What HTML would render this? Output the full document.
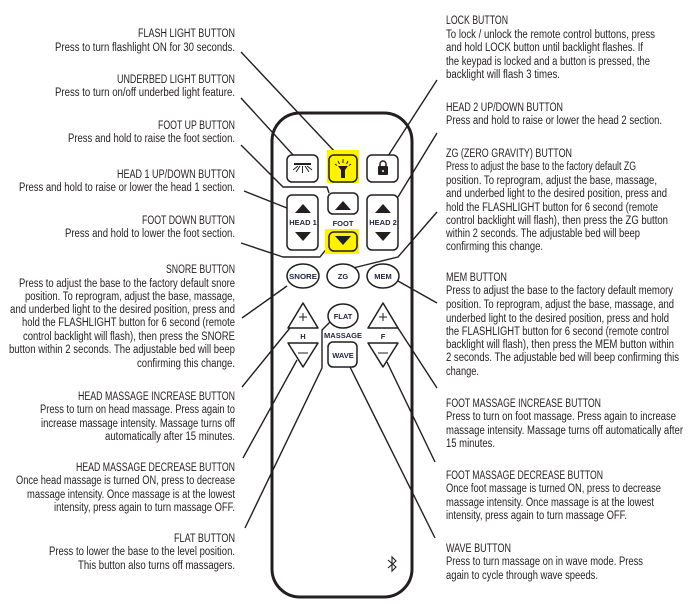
<!DOCTYPE html>
<html><head><meta charset="utf-8"><style>
html,body{margin:0;padding:0;background:#fff;}
svg{display:block;}
.t{font-family:"Liberation Sans Narrow","Liberation Sans",sans-serif;font-size:11.5px;fill:#231f20;}
.b{font-family:"Liberation Sans",sans-serif;font-weight:bold;font-size:7.5px;fill:#1f2340;text-anchor:middle;}
</style></head><body>
<svg width="695" height="604" viewBox="0 0 695 604" xmlns="http://www.w3.org/2000/svg">
<g class="t" lengthAdjust="spacingAndGlyphs">
<text x="138" y="37" textLength="97" lengthAdjust="spacingAndGlyphs">FLASH LIGHT BUTTON</text>
<text x="55" y="51" textLength="180" lengthAdjust="spacingAndGlyphs">Press to turn flashlight ON for 30 seconds.</text>
<text x="117" y="83" textLength="118" lengthAdjust="spacingAndGlyphs">UNDERBED LIGHT BUTTON</text>
<text x="55" y="96" textLength="180" lengthAdjust="spacingAndGlyphs">Press to turn on/off underbed light feature.</text>
<text x="158" y="129" textLength="77" lengthAdjust="spacingAndGlyphs">FOOT UP BUTTON</text>
<text x="68" y="142" textLength="167" lengthAdjust="spacingAndGlyphs">Press and hold to raise the foot section.</text>
<text x="117" y="178" textLength="118" lengthAdjust="spacingAndGlyphs">HEAD 1 UP/DOWN BUTTON</text>
<text x="19" y="191" textLength="216" lengthAdjust="spacingAndGlyphs">Press and hold to raise or lower the head 1 section.</text>
<text x="142" y="224" textLength="93" lengthAdjust="spacingAndGlyphs">FOOT DOWN BUTTON</text>
<text x="65" y="237" textLength="170" lengthAdjust="spacingAndGlyphs">Press and hold to lower the foot section.</text>
<text x="166" y="273" textLength="69" lengthAdjust="spacingAndGlyphs">SNORE BUTTON</text>
<text x="19" y="287" textLength="216" lengthAdjust="spacingAndGlyphs">Press to adjust the base to the factory default snore</text>
<text x="25" y="300" textLength="210" lengthAdjust="spacingAndGlyphs">position. To reprogram, adjust the base, massage,</text>
<text x="10" y="313" textLength="225" lengthAdjust="spacingAndGlyphs">and underbed light to the desired position, press and</text>
<text x="22" y="326" textLength="213" lengthAdjust="spacingAndGlyphs">hold the FLASHLIGHT button for 6 second (remote</text>
<text x="23" y="340" textLength="212" lengthAdjust="spacingAndGlyphs">control backlight will flash), then press the SNORE</text>
<text x="9" y="353" textLength="226" lengthAdjust="spacingAndGlyphs">button within 2 seconds. The adjustable bed will beep</text>
<text x="137" y="367" textLength="98" lengthAdjust="spacingAndGlyphs">confirming this change.</text>
<text x="78" y="400" textLength="157" lengthAdjust="spacingAndGlyphs">HEAD MASSAGE INCREASE BUTTON</text>
<text x="40" y="413" textLength="195" lengthAdjust="spacingAndGlyphs">Press to turn on head massage. Press again to</text>
<text x="41" y="427" textLength="194" lengthAdjust="spacingAndGlyphs">increase massage intensity. Massage turns off</text>
<text x="105" y="440" textLength="130" lengthAdjust="spacingAndGlyphs">automatically after 15 minutes.</text>
<text x="76" y="471" textLength="159" lengthAdjust="spacingAndGlyphs">HEAD MASSAGE DECREASE BUTTON</text>
<text x="16" y="484" textLength="219" lengthAdjust="spacingAndGlyphs">Once head massage is turned ON, press to decrease</text>
<text x="27" y="498" textLength="208" lengthAdjust="spacingAndGlyphs">massage intensity. Once massage is at the lowest</text>
<text x="54" y="511" textLength="181" lengthAdjust="spacingAndGlyphs">intensity, press again to turn massage OFF.</text>
<text x="174" y="542" textLength="61" lengthAdjust="spacingAndGlyphs">FLAT BUTTON</text>
<text x="49" y="555" textLength="186" lengthAdjust="spacingAndGlyphs">Press to lower the base to the level position.</text>
<text x="78" y="569" textLength="157" lengthAdjust="spacingAndGlyphs">This button also turns off massagers.</text>

<text x="446" y="24" textLength="62" lengthAdjust="spacingAndGlyphs">LOCK BUTTON</text>
<text x="446" y="38" textLength="209" lengthAdjust="spacingAndGlyphs">To lock / unlock the remote control buttons, press</text>
<text x="446" y="51" textLength="197" lengthAdjust="spacingAndGlyphs">and hold LOCK button until backlight flashes. If</text>
<text x="446" y="65" textLength="204" lengthAdjust="spacingAndGlyphs">the keypad is locked and a button is pressed, the</text>
<text x="446" y="78" textLength="114" lengthAdjust="spacingAndGlyphs">backlight will flash 3 times.</text>
<text x="446" y="111" textLength="117" lengthAdjust="spacingAndGlyphs">HEAD 2 UP/DOWN BUTTON</text>
<text x="446" y="124" textLength="216" lengthAdjust="spacingAndGlyphs">Press and hold to raise or lower the head 2 section.</text>
<text x="446" y="157" textLength="126" lengthAdjust="spacingAndGlyphs">ZG (ZERO GRAVITY) BUTTON</text>
<text x="446" y="170" textLength="190" lengthAdjust="spacingAndGlyphs">Press to adjust the base to the factory default ZG</text>
<text x="446" y="184" textLength="211" lengthAdjust="spacingAndGlyphs">position. To reprogram, adjust the base, massage,</text>
<text x="446" y="197" textLength="221" lengthAdjust="spacingAndGlyphs">and underbed light to the desired position, press and</text>
<text x="446" y="211" textLength="212" lengthAdjust="spacingAndGlyphs">hold the FLASHLIGHT button for 6 second (remote</text>
<text x="446" y="224" textLength="222" lengthAdjust="spacingAndGlyphs">control backlight will flash), then press the ZG button</text>
<text x="446" y="237" textLength="194" lengthAdjust="spacingAndGlyphs">within 2 seconds. The adjustable bed will beep</text>
<text x="446" y="250" textLength="97" lengthAdjust="spacingAndGlyphs">confirming this change.</text>
<text x="446" y="281" textLength="61" lengthAdjust="spacingAndGlyphs">MEM BUTTON</text>
<text x="446" y="294" textLength="227" lengthAdjust="spacingAndGlyphs">Press to adjust the base to the factory default memory</text>
<text x="446" y="308" textLength="228" lengthAdjust="spacingAndGlyphs">position. To reprogram, adjust the base, massage, and</text>
<text x="446" y="322" textLength="223" lengthAdjust="spacingAndGlyphs">underbed light to the desired position, press and hold</text>
<text x="446" y="335" textLength="223" lengthAdjust="spacingAndGlyphs">the FLASHLIGHT button for 6 second (remote control</text>
<text x="446" y="348" textLength="228" lengthAdjust="spacingAndGlyphs">backlight will flash), then press the MEM button within</text>
<text x="446" y="361" textLength="233" lengthAdjust="spacingAndGlyphs">2 seconds. The adjustable bed will beep confirming this</text>
<text x="446" y="375" textLength="33" lengthAdjust="spacingAndGlyphs">change.</text>
<text x="446" y="407" textLength="155" lengthAdjust="spacingAndGlyphs">FOOT MASSAGE INCREASE BUTTON</text>
<text x="446" y="420" textLength="230" lengthAdjust="spacingAndGlyphs">Press to turn on foot massage. Press again to increase</text>
<text x="446" y="434" textLength="237" lengthAdjust="spacingAndGlyphs">massage intensity. Massage turns off automatically after</text>
<text x="446" y="447" textLength="49" lengthAdjust="spacingAndGlyphs">15 minutes.</text>
<text x="446" y="479" textLength="157" lengthAdjust="spacingAndGlyphs">FOOT MASSAGE DECREASE BUTTON</text>
<text x="446" y="492" textLength="215" lengthAdjust="spacingAndGlyphs">Once foot massage is turned ON, press to decrease</text>
<text x="446" y="506" textLength="208" lengthAdjust="spacingAndGlyphs">massage intensity. Once massage is at the lowest</text>
<text x="446" y="519" textLength="181" lengthAdjust="spacingAndGlyphs">intensity, press again to turn massage OFF.</text>
<text x="446" y="552" textLength="65" lengthAdjust="spacingAndGlyphs">WAVE BUTTON</text>
<text x="446" y="565" textLength="197" lengthAdjust="spacingAndGlyphs">Press to turn massage on in wave mode. Press</text>
<text x="446" y="579" textLength="152" lengthAdjust="spacingAndGlyphs">again to cycle through wave speeds.</text>
</g>

<!-- remote -->
<rect x="272" y="113" width="140" height="484" rx="28" fill="#fff" stroke="#231f20" stroke-width="3"/>

<!-- leader lines -->
<g stroke="#231f20" stroke-width="1.4" fill="none" stroke-linejoin="round">
<polyline points="241,52 336,153"/>
<polyline points="241,98 294,156"/>
<polyline points="241,145 283,187 327,187 329,193"/>
<polyline points="244,191 287,208"/>
<polyline points="241,243 283,257 320,257 328,247"/>
<polyline points="242,318 287,286"/>
<polyline points="242,387 294,323"/>
<polyline points="243,458 297,360"/>
<polyline points="245,528 322,368 322,330 330,322"/>
<polyline points="350,367 435,538"/>
<polyline points="437,80 388,156"/>
<polyline points="437,133 398,197"/>
<polyline points="437,212 398,257 353,268"/>
<polyline points="398,281 437,303"/>
<polyline points="398,328 437,388"/>
<polyline points="387,362 435,462"/>
</g>

<!-- buttons -->
<g stroke="#231f20" stroke-width="1.5" fill="#fff">
<rect x="327" y="150" width="32" height="33" fill="#fff200" stroke="none"/>
<rect x="325" y="229" width="34" height="25" fill="#fff200" stroke="none"/>
<rect x="287" y="155" width="31" height="27" rx="5"/>
<rect x="329" y="155" width="28" height="27" rx="5" fill="#fff200"/>
<rect x="367" y="155" width="31" height="27" rx="5"/>
<rect x="287" y="195" width="31" height="55" rx="5"/>
<rect x="328" y="193" width="30" height="21" rx="5"/>
<rect x="329" y="232" width="28" height="19" rx="5" fill="#fff200"/>
<rect x="367" y="195" width="31" height="55" rx="5"/>
<ellipse cx="303" cy="276" rx="16" ry="12"/>
<ellipse cx="343" cy="276" rx="16" ry="12"/>
<ellipse cx="383" cy="276" rx="16" ry="12"/>
<ellipse cx="343" cy="316" rx="15" ry="12"/>
<rect x="328" y="342" width="29" height="25" rx="5"/>
<path d="M303,303 L318,328 L288,328 Z" stroke-linejoin="round"/>
<path d="M288,343 L318,343 L303,367 Z" stroke-linejoin="round"/>
<path d="M383,303 L398,328 L368,328 Z" stroke-linejoin="round"/>
<path d="M368,343 L398,343 L383,367 Z" stroke-linejoin="round"/>
</g>
<!-- arrows -->
<g fill="#231f20">
<path d="M295,213 L303,204 L311,213Z"/>
<path d="M295,232 L303,241 L311,232Z"/>
<path d="M335,210 L343,201 L351,210Z"/>
<path d="M335,236 L343,245 L351,236Z"/>
<path d="M375,213 L383,204 L391,213Z"/>
<path d="M375,232 L383,241 L391,232Z"/>
<rect x="378" y="166" width="10" height="9" rx="1"/>
<path d="M380,167 v-3 a3,3 0 0 1 6,0 v3" fill="none" stroke="#231f20" stroke-width="1.5"/>
<path d="M338,166 h10 l-3,4 v8 h-4 v-8 z"/>
</g>
<circle cx="383" cy="171" r="1" fill="#fff"/>
<g stroke="#231f20" stroke-width="1" fill="none">
<line x1="343" y1="159" x2="343" y2="163"/><line x1="338" y1="161" x2="339.5" y2="164"/><line x1="348" y1="161" x2="346.5" y2="164"/><line x1="335" y1="164" x2="337" y2="165.5"/><line x1="351" y1="164" x2="349" y2="165.5"/>
<line x1="294" y1="164" x2="311" y2="164" stroke-width="2"/>
<line x1="302.5" y1="166" x2="302.5" y2="173"/><line x1="300" y1="166" x2="296" y2="172"/><line x1="305" y1="166" x2="309" y2="172"/><line x1="298" y1="166" x2="293" y2="170"/><line x1="307" y1="166" x2="312" y2="170"/>
<line x1="303" y1="313" x2="303" y2="321"/><line x1="299" y1="317" x2="307" y2="317"/>
<line x1="383" y1="313" x2="383" y2="321"/><line x1="379" y1="317" x2="387" y2="317"/>
<line x1="298" y1="353" x2="308" y2="353"/>
<line x1="378" y1="353" x2="388" y2="353"/>
<path d="M388,560 L396,567 L392,571 L392,557 L396,561 L388,568" stroke-width="1.1"/>
</g>
<g class="b">
<text x="303" y="225">HEAD 1</text>
<text x="343" y="226">FOOT</text>
<text x="383" y="225">HEAD 2</text>
<text x="303" y="279" textLength="28" lengthAdjust="spacingAndGlyphs">SNORE</text>
<text x="343" y="279">ZG</text>
<text x="383" y="279">MEM</text>
<text x="343" y="319">FLAT</text>
<text x="343" y="338" textLength="38" lengthAdjust="spacingAndGlyphs">MASSAGE</text>
<text x="343" y="358">WAVE</text>
<text x="303" y="339">H</text>
<text x="383" y="339">F</text>
</g>
</svg>
</body></html>
